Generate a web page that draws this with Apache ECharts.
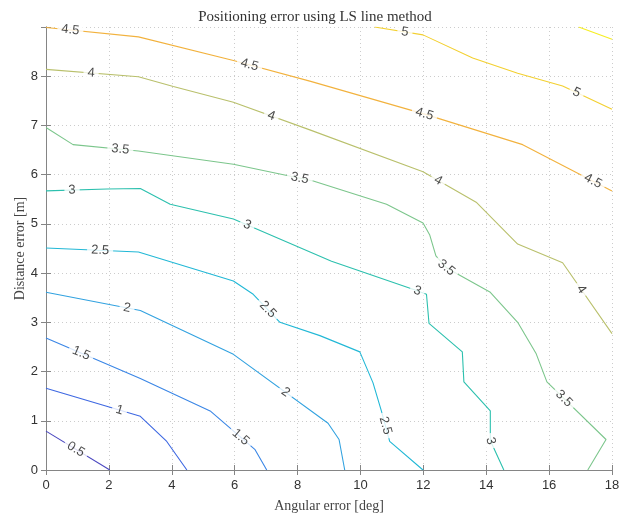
<!DOCTYPE html>
<html><head><meta charset="utf-8">
<script src="https://cdn.jsdelivr.net/npm/echarts@6/dist/echarts.min.js"></script>
<style>html,body{margin:0;padding:0;background:#fff}#c{width:630px;height:518px}</style>
</head><body><div id="c"></div>
<script>
// ---- data ----
const levels = [0.5, 1, 1.5, 2, 2.5, 3, 3.5, 4, 4.5, 5, 5.5];
const c05 = [[0,0.79],[2.03,0]];
const c10 = [[0,1.66],[3.0,1.09],[3.84,0.58],[4.48,0]];
const c15 = [[0,2.68],[3.0,1.86],[5.22,1.2],[6.64,0.42],[7.02,0]];
const c20 = [[0,3.61],[3.0,3.24],[5.96,2.35],[8.97,0.95],[9.32,0.62],[9.5,0]];
const c25 = [[0,4.51],[2.94,4.43],[5.96,3.84],[6.59,3.57],[7.44,3.0],[8.71,2.73],[9.98,2.4],[10.4,1.77],[10.67,1.19],[10.93,0.58],[11.99,0]];
const c30 = [[0,5.67],[1.94,5.71],[3.0,5.72],[3.95,5.4],[5.96,5.1],[9.08,4.24],[11.67,3.67],[12.1,3.57],[12.18,2.98],[13.24,2.4],[13.29,1.79],[14.13,1.2],[14.13,0.6],[14.56,0]];
const c35 = [[0,6.96],[0.86,6.61],[2.94,6.48],[5.96,6.21],[8.5,5.87],[10.83,5.4],[11.99,5.02],[12.2,4.78],[12.4,4.35],[12.73,4.11],[14.13,3.61],[15.0,3.0],[15.59,2.36],[15.93,1.79],[17.81,0.62],[17.23,0]];
const c40 = [[0,8.14],[2.94,7.99],[4.05,7.79],[5.96,7.47],[8.39,6.91],[11.99,6.06],[13.68,5.44],[15.0,4.59],[16.43,4.21],[18,2.77]];
const c45 = [[0,8.99],[2.94,8.8],[5.96,8.32],[8.39,7.9],[12.04,7.23],[15.16,6.61],[18,5.67]];
const c50 = [[10.45,9.0],[11.99,8.84],[13.57,8.37],[15.0,8.06],[16.43,7.8],[18,7.33]];
const c55 = [[16.94,9.0],[18,8.75]];
const contourLines = [c05, c10, c15, c20, c25, c30, c35, c40, c45, c50, c55];
// label anchor points [x, y, level]
const labelPoints = [
  [0.98,0.45,0.5],
  [2.34,1.22,1],
  [1.09,2.33,1.5],[6.17,0.65,1.5],
  [2.57,3.27,2],[7.6,1.56,2],
  [1.72,4.45,2.5],[7.02,3.24,2.5],[10.78,0.9,2.5],
  [0.83,5.65,3],[6.38,4.95,3],[11.81,3.64,3],[14.1,0.58,3],
  [2.36,6.48,3.5],[8.07,5.92,3.5],[12.73,4.11,3.5],[16.49,1.46,3.5],
  [1.43,8.04,4],[7.17,7.2,4],[12.44,5.85,4],[17.02,3.67,4],
  [0.77,8.91,4.5],[6.46,8.2,4.5],[12.04,7.24,4.5],[17.33,5.79,4.5],
  [11.41,8.88,5],[16.86,7.65,5]
];
const xTickValues = [0,2,4,6,8,10,12,14,16,18];
const yTickValues = [0,1,2,3,4,5,6,7,8];

// ---- styles ----
const lineColors = ['#4b48c0','#3e68e2','#3a86e6','#32a2e0','#22b8d6','#2cc0ae','#7cc68c','#b9c06c','#f2b23e','#f3d030','#f6ee22'];
const axisColor = '#858585';
const tickText = '#333333';

const chart = echarts.init(document.getElementById('c'), null, {renderer: 'canvas'});

function baseOption(labelData) {
  const lineSeries = contourLines.map((pts, i) => ({
    type: 'line', name: String(levels[i]), data: pts, showSymbol: false, symbol: 'none',
    lineStyle: {color: lineColors[i], width: 1.1}, itemStyle: {color: lineColors[i]},
    silent: true, animation: false, z: 2, clip: true
  }));
  const labelSeries = {
    type: 'scatter', data: labelData, symbolSize: 0, silent: true, animation: false, z: 5,
    label: {show: true, position: 'inside', formatter: p => String(p.value[2]),
      fontFamily: 'Liberation Sans, Arial, sans-serif', fontSize: 13, color: '#1a1a1a',
      backgroundColor: '#ffffff', padding: [1, 4]}
  };
  const xCommon = {type: 'value', min: 0, max: 18, interval: 2,
    axisLine: {show: true, lineStyle: {color: axisColor, width: 1}},
    axisTick: {show: true, inside: true, length: 5, lineStyle: {color: axisColor}}};
  const yCommon = {type: 'value', min: 0, max: 9, interval: 1,
    axisLine: {show: true, lineStyle: {color: axisColor, width: 1}},
    axisTick: {show: true, inside: true, length: 5, lineStyle: {color: axisColor}}};
  return {
    backgroundColor: '#ffffff',
    animation: false,
    title: {text: 'Positioning error using LS line method', left: 'center', top: 5,
      textStyle: {fontFamily: 'Liberation Serif, serif', fontWeight: 'normal', fontSize: 15, color: '#333'}},
    grid: {left: 46, right: 18, top: 27, bottom: 44, containLabel: false},
    xAxis: [
      Object.assign({}, xCommon, {position: 'bottom',
        name: 'Angular error [deg]', nameLocation: 'middle', nameGap: 36, nameMoveOverlap: false,
        nameTextStyle: {fontFamily: 'Liberation Serif, serif', fontSize: 14, color: '#444', verticalAlign: 'middle'},
        axisLabel: {show: true, margin: 9, fontFamily: 'Liberation Sans, Arial, sans-serif', fontSize: 13, color: tickText,
          customValues: xTickValues},
        splitLine: {show: true, lineStyle: {type: [1, 3], color: '#cccccc', width: 1}}}),
      Object.assign({}, xCommon, {position: 'top', axisLabel: {show: false}, splitLine: {show: false}})
    ],
    yAxis: [
      Object.assign({}, yCommon, {position: 'left',
        name: 'Distance error [m]', nameLocation: 'middle', nameGap: 26, nameRotate: 90, nameMoveOverlap: false,
        nameTextStyle: {fontFamily: 'Liberation Serif, serif', fontSize: 14, color: '#444', verticalAlign: 'middle'},
        axisLabel: {show: true, margin: 8, fontFamily: 'Liberation Sans, Arial, sans-serif', fontSize: 13, color: tickText,
          formatter: v => (yTickValues.indexOf(v) >= 0 ? String(v) : '')},
        splitLine: {show: true, lineStyle: {type: [1, 3], color: '#cccccc', width: 1}}}),
      Object.assign({}, yCommon, {position: 'right', axisLabel: {show: false}, splitLine: {show: false}})
    ],
    series: lineSeries.concat([labelSeries])
  };
}

chart.setOption(baseOption([]));

function toPx(p) { return chart.convertToPixel({xAxisIndex: 0, yAxisIndex: 0}, p); }

function placeLabel(lbl) {
  const line = contourLines[levels.indexOf(lbl[2])];
  const p = toPx([lbl[0], lbl[1]]);
  const px = line.map(toPx);
  let best = {d: Infinity};
  for (let i = 0; i < px.length - 1; i++) {
    const a = px[i], b = px[i + 1];
    const dx = b[0] - a[0], dy = b[1] - a[1];
    const L2 = dx * dx + dy * dy;
    let t = L2 > 0 ? ((p[0] - a[0]) * dx + (p[1] - a[1]) * dy) / L2 : 0;
    t = Math.max(0, Math.min(1, t));
    const q = [a[0] + t * dx, a[1] + t * dy];
    const d = Math.hypot(q[0] - p[0], q[1] - p[1]);
    if (d < best.d) best = {d, i, t, q};
  }
  const cum = [0];
  for (let i = 1; i < px.length; i++) cum.push(cum[i - 1] + Math.hypot(px[i][0] - px[i - 1][0], px[i][1] - px[i - 1][1]));
  const s0 = cum[best.i] + best.t * (cum[best.i + 1] - cum[best.i]);
  function at(s) {
    s = Math.max(0, Math.min(cum[cum.length - 1], s));
    for (let i = 0; i < px.length - 1; i++) {
      if (s <= cum[i + 1] || i === px.length - 2) {
        const seg = cum[i + 1] - cum[i];
        const t = seg > 0 ? (s - cum[i]) / seg : 0;
        return [px[i][0] + t * (px[i + 1][0] - px[i][0]), px[i][1] + t * (px[i + 1][1] - px[i][1])];
      }
    }
  }
  const A = at(s0 - 8), B = at(s0 + 8);
  let ang = Math.atan2(-(B[1] - A[1]), B[0] - A[0]) * 180 / Math.PI;
  if (ang >= 90) ang -= 180;
  if (ang < -90) ang += 180;
  const dv = chart.convertFromPixel({xAxisIndex: 0, yAxisIndex: 0}, best.q);
  return {value: [dv[0], dv[1], lbl[2]], label: {rotate: ang}};
}

chart.setOption(baseOption(labelPoints.map(placeLabel)));
</script>
</body></html>
